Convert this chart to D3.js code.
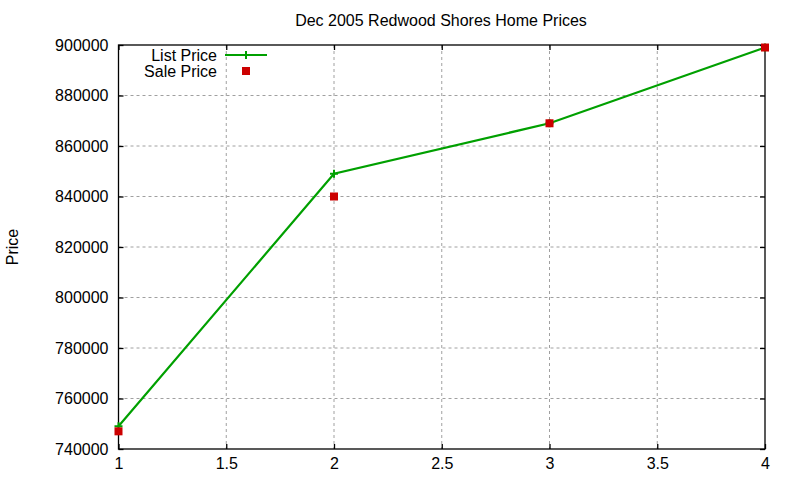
<!DOCTYPE html>
<html>
<head>
<meta charset="utf-8">
<script src="https://cdn.jsdelivr.net/npm/d3@7"></script>
<style>
  body { margin: 0; background: #fff; }
  text { font-family: "Liberation Sans", Arial, sans-serif; fill: #000; }
</style>
</head>
<body>
<script>
// Data
const houses = [1, 2, 3, 4];
const listPrice = [749000, 849000, 869000, 899000];
const salePrice = [747000, 840000, 869000, 899000];
const xTicks = [1, 1.5, 2, 2.5, 3, 3.5, 4];
const yTicks = [740000, 760000, 780000, 800000, 820000, 840000, 860000, 880000, 900000];

const W = 800, H = 480;
const margin = {top: 45, right: 35, bottom: 31, left: 118.5};
const width = W - margin.left - margin.right,
      height = H - margin.top - margin.bottom;

const svg = d3.select("body").append("svg")
              .attr("width", W)
              .attr("height", H);

const g = svg.append("g")
             .attr("transform", `translate(${margin.left},${margin.top})`);

let x = d3.scaleLinear().domain([1, 4]).range([0, width]);
let y = d3.scaleLinear().domain([740000, 900000]).range([height, 0]);

const fs = 16;

// grid lines (dashed gray), skip the ones on the border
g.append("g").selectAll("line")
  .data(xTicks.filter(d => d > 1 && d < 4))
  .join("line")
  .attr("x1", d => x(d)).attr("x2", d => x(d))
  .attr("y1", 0).attr("y2", height)
  .attr("stroke", "#a0a0a0").attr("stroke-dasharray", "3,3");

g.append("g").selectAll("line")
  .data(yTicks.filter(d => d > 740000 && d < 900000))
  .join("line")
  .attr("y1", d => y(d)).attr("y2", d => y(d))
  .attr("x1", 0).attr("x2", width)
  .attr("stroke", "#a0a0a0").attr("stroke-dasharray", "3,3");

// axes with inward ticks
let xAxis = g.append("g")
  .attr("transform", `translate(0,${height})`)
  .call(d3.axisBottom(x).tickValues(xTicks).tickSize(-5).tickPadding(9).tickFormat(d3.format("")));
let yAxis = g.append("g")
  .call(d3.axisLeft(y).tickValues(yTicks).tickSize(-5).tickPadding(10).tickFormat(d3.format("d")));
// mirrored ticks
g.append("g")
  .call(d3.axisTop(x).tickValues(xTicks).tickSize(-5).tickFormat(""));
g.append("g")
  .attr("transform", `translate(${width},0)`)
  .call(d3.axisRight(y).tickValues(yTicks).tickSize(-5).tickFormat(""));

g.selectAll(".domain").remove();
g.selectAll(".tick line").attr("stroke", "#000").attr("stroke-width", 1.3);
g.selectAll(".tick text").attr("font-size", fs).attr("font-family", "Liberation Sans, Arial, sans-serif").attr("fill", "#000");

// border
g.append("rect")
  .attr("width", width).attr("height", height)
  .attr("fill", "none").attr("stroke", "#000").attr("stroke-width", 1.3);

// list price line
const line = d3.line().x((d, i) => x(houses[i])).y(d => y(d));
g.append("path")
  .datum(listPrice)
  .attr("d", line)
  .attr("fill", "none")
  .attr("stroke", "#00a000")
  .attr("stroke-width", 2.2);

const plusPath = "M-4,0H4M0,-4V4";
g.selectAll(".plus")
  .data(listPrice)
  .join("path")
  .attr("class", "plus")
  .attr("transform", (d, i) => `translate(${x(houses[i])},${y(d)})`)
  .attr("d", plusPath)
  .attr("stroke", "#00a000").attr("stroke-width", 2);

// sale price points
g.selectAll(".sale")
  .data(salePrice)
  .join("rect")
  .attr("class", "sale")
  .attr("x", (d, i) => x(houses[i]) - 4)
  .attr("y", d => y(d) - 4)
  .attr("width", 8).attr("height", 8)
  .attr("fill", "#cc0000");

// legend
const leg = svg.append("g");
leg.append("text").attr("x", 217).attr("y", 55).attr("dy", "0.35em")
   .attr("text-anchor", "end").attr("font-size", fs).text("List Price");
leg.append("line").attr("x1", 225).attr("x2", 267).attr("y1", 55).attr("y2", 55)
   .attr("stroke", "#00a000").attr("stroke-width", 2.2);
leg.append("path").attr("transform", "translate(246,55)").attr("d", plusPath)
   .attr("stroke", "#00a000").attr("stroke-width", 2);
leg.append("text").attr("x", 217).attr("y", 71).attr("dy", "0.35em")
   .attr("text-anchor", "end").attr("font-size", fs).text("Sale Price");
leg.append("rect").attr("x", 242).attr("y", 67).attr("width", 8).attr("height", 8)
   .attr("fill", "#cc0000");

// title & axis label
svg.append("text").attr("x", 441).attr("y", 20).attr("dy", "0.35em")
   .attr("text-anchor", "middle").attr("font-size", fs)
   .text("Dec 2005 Redwood Shores Home Prices");
svg.append("text")
   .attr("transform", "translate(12,247) rotate(-90)")
   .attr("dy", "0.35em")
   .attr("text-anchor", "middle").attr("font-size", fs)
   .text("Price");
</script>
</body>
</html>
